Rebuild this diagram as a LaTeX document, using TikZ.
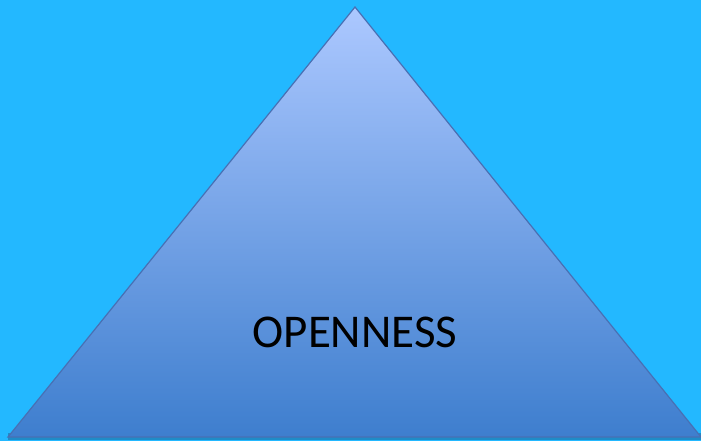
\documentclass[tikz,border=0pt]{standalone}
\usepackage{fontspec}
\setmainfont{Carlito}
\usepackage{tikz}
\usetikzlibrary{positioning}
\definecolor{skybg}{RGB}{35,184,255}
\definecolor{pyrtop}{RGB}{172,200,255}
\definecolor{pyrbot}{RGB}{62,126,206}
\definecolor{pyredge}{RGB}{72,112,180}
\definecolor{pyrshadow}{RGB}{30,140,200}
\begin{document}
\begin{tikzpicture}[x=1pt,y=-1pt,
      lbl/.style={font=\fontsize{47}{56}\selectfont,text=black,inner sep=0}]
      \fill[skybg] (0,0) rectangle (701,441);
      \useasboundingbox (0,0) rectangle (701,441);
      \coordinate (apex) at (355,7);
      \coordinate (bl) at (8,437);
      \coordinate (br) at (701,437);
      % shadow under the base
      \fill[pyrshadow] ([yshift=-3]bl) -- ([yshift=-3]br) -- ([yshift=4]br) -- ([yshift=4]bl) -- cycle;
      \shade[top color=pyrtop,bottom color=pyrbot,draw=pyredge,line width=1.2pt]
        (apex) -- (br) -- (bl) -- cycle;
      \node[lbl] (open) at (355,332) {OPENNESS};
    \end{tikzpicture}
\end{document}
